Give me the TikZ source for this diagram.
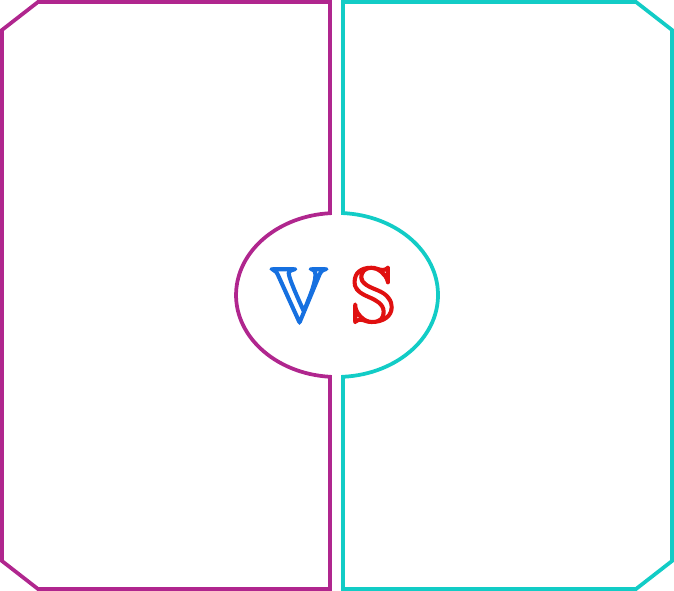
\documentclass[tikz,border=0pt]{standalone}
\usepackage{amsmath,amssymb}
\definecolor{vsmagenta}{HTML}{B0268E}
\definecolor{vscyan}{HTML}{12CCC6}
\definecolor{vblue}{HTML}{1670E0}
\definecolor{sred}{HTML}{E01010}
% heavier strokes for the outline letters
\newcommand{\thickglyph}[1]{\special{pdf:literal direct 2 Tr 1.1 w}#1\special{pdf:literal direct 0 Tr}}

\begin{document}
\begin{tikzpicture}[x=0.03cm, y=0.03cm, line join=miter]
\useasboundingbox (0,0) rectangle (674,591);

% Ellipse centre and radii
\coordinate (E) at (337,296);

% Left panel
\draw[vsmagenta, line width=3.2] (2,30) -- (38,2) -- (330,2) -- (330,214.2)
  arc (266:94:101 and 82) -- (330,589) -- (38,589) -- (2,561) -- cycle;

% Right panel
\draw[vscyan, line width=3.2] (343,589) -- (636,589) -- (672,561) -- (672,30)
  -- (636,2) -- (343,2) -- (343,214.2)
  arc (-86.6:86.6:101 and 82) -- cycle;

% Letters
\node[text=vblue, font=\fontsize{68}{74}\selectfont] (vee) at (299,296) {\thickglyph{$\mathbb{V}$}};
\node[text=sred, font=\fontsize{68}{74}\selectfont] (ess) at (373,296) {\thickglyph{$\mathbb{S}$}};

\end{tikzpicture}
\end{document}
